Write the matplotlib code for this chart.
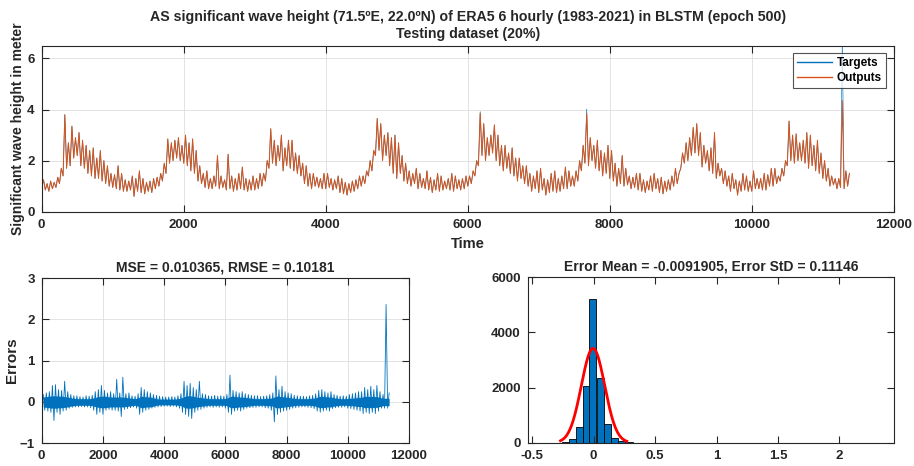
import numpy as np
import matplotlib.pyplot as plt

plt.rcParams['font.family'] = ['Liberation Sans', 'DejaVu Sans']
plt.rcParams['font.weight'] = 'bold'

hs_step = 50
hs_lo = [0.95, 0.85, 0.80, 0.90, 0.95, 1.10, 1.40, 1.70, 1.80, 2.10,
         2.20, 1.80, 1.70, 1.50, 1.40, 1.30, 1.30, 1.20, 1.10, 1.00,
         0.95, 0.90, 0.85, 0.80, 0.80, 0.85, 0.60, 0.80, 0.75, 0.70,
         0.80, 0.75, 0.90, 1.00, 1.20, 1.50, 1.90, 2.00, 2.10, 2.00,
         1.90, 1.80, 1.60, 1.50, 1.20, 1.10, 0.95, 0.90, 0.90, 1.00,
         0.90, 0.95, 0.85, 0.90, 0.80, 0.85, 0.90, 0.85, 0.80, 0.85,
         0.85, 0.90, 1.00, 1.20, 1.70, 1.90, 1.80, 2.00, 1.60, 1.80,
         1.70, 1.60, 1.50, 1.40, 1.10, 1.00, 0.90, 1.00, 0.95, 0.90,
         0.90, 0.95, 0.85, 0.90, 0.75, 0.70, 0.65, 0.75, 0.80, 0.90,
         1.00, 1.10, 1.40, 1.60, 2.20, 2.40, 2.00, 2.20, 1.80, 1.50,
         1.30, 1.50, 1.20, 1.10, 1.00, 1.10, 0.90, 0.95, 0.90, 0.85,
         0.75, 0.85, 0.80, 0.85, 0.90, 0.85, 0.80, 0.90, 0.85, 0.90,
         1.00, 1.10, 1.40, 1.80, 2.20, 2.00, 2.20, 2.30, 2.00, 1.80,
         1.60, 1.70, 1.50, 1.40, 1.20, 1.30, 1.10, 1.00, 0.80, 0.90,
         0.75, 0.85, 0.65, 0.75, 0.80, 0.75, 0.80, 0.90, 0.90, 1.00,
         1.00, 1.20, 1.60, 1.90, 1.80, 2.00, 1.70, 1.60, 1.40, 1.50,
         1.30, 1.20, 1.00, 1.10, 1.00, 1.05, 0.90, 0.95, 0.85, 0.80,
         0.75, 0.85, 0.80, 0.90, 0.75, 0.70, 0.80, 0.85, 1.00, 1.10,
         1.70, 1.90, 2.00, 2.20, 2.30, 2.20, 1.75, 1.90, 1.60, 1.50,
         1.30, 1.40, 1.10, 1.00, 0.80, 0.90, 0.65, 0.80, 0.85, 0.80,
         0.80, 0.90, 0.90, 0.85, 0.85, 1.00, 1.00, 1.10, 1.20, 1.40,
         1.80, 2.00, 1.90, 2.00, 2.00, 1.90, 1.70, 1.80, 1.60, 1.50,
         1.30, 1.20, 1.00, 1.05, 0.90, 0.95, 0.90, 1.00]
hs_hi = [1.25, 1.10, 1.20, 1.15, 1.35, 1.70, 3.80, 2.70, 3.35, 2.90,
         3.10, 2.80, 2.60, 2.40, 2.50, 2.10, 2.40, 2.00, 1.80, 1.50,
         1.45, 1.80, 1.50, 1.25, 1.20, 1.40, 1.30, 1.60, 1.30, 1.15,
         1.20, 1.30, 1.35, 1.50, 1.90, 2.85, 2.70, 2.80, 2.90, 2.60,
         3.00, 2.70, 2.85, 2.40, 1.80, 1.50, 1.60, 1.30, 1.40, 2.20,
         1.40, 1.25, 2.25, 1.40, 1.30, 1.50, 1.75, 1.30, 1.25, 1.40,
         1.30, 1.50, 1.50, 2.00, 3.25, 2.80, 2.60, 3.00, 2.50, 2.80,
         2.80, 2.30, 2.20, 1.90, 1.80, 1.50, 1.50, 1.35, 1.30, 1.50,
         1.50, 1.30, 1.25, 1.40, 1.30, 1.15, 1.10, 1.20, 1.25, 1.40,
         1.40, 1.60, 2.00, 2.40, 3.65, 3.45, 3.00, 3.10, 2.90, 3.00,
         2.70, 2.20, 1.90, 1.60, 1.50, 1.70, 1.50, 1.30, 1.60, 1.35,
         1.25, 1.50, 1.40, 1.20, 1.30, 1.50, 1.40, 1.25, 1.30, 1.40,
         1.40, 1.60, 2.00, 3.85, 3.45, 2.90, 3.00, 3.40, 3.00, 2.60,
         2.60, 2.30, 2.50, 2.10, 2.10, 1.80, 1.80, 1.50, 1.40, 1.60,
         1.70, 1.30, 1.25, 1.50, 1.60, 1.30, 1.40, 1.75, 1.60, 1.40,
         1.60, 2.00, 2.60, 3.85, 2.90, 2.60, 2.80, 2.40, 2.30, 2.60,
         2.40, 1.90, 1.70, 2.20, 1.70, 1.40, 1.35, 1.50, 1.50, 1.25,
         1.20, 1.40, 1.50, 1.30, 1.35, 1.20, 1.25, 1.40, 1.70, 1.50,
         2.30, 2.70, 2.90, 3.30, 3.45, 3.10, 2.60, 2.40, 2.50, 3.10,
         1.90, 1.70, 1.60, 1.40, 1.50, 1.25, 1.20, 1.50, 1.40, 1.20,
         1.60, 1.30, 1.30, 1.50, 1.45, 1.70, 1.70, 1.40, 1.70, 2.00,
         3.55, 3.00, 3.05, 2.70, 2.80, 3.10, 3.00, 2.60, 2.80, 2.30,
         2.00, 1.70, 1.40, 1.30, 1.30, 4.35, 1.60, 1.50]
# windows where the targets go above the outputs
target_peaks = {123: 3.92, 153: 4.02, 225: 6.7}

# errors: extremes per window of 100 steps, plus half width of the dense band
err_step = 100
err_lo = [-0.15, -0.20, -0.22, -0.25, -0.45, -0.25, -0.30, -0.22, -0.20, -0.15,
          -0.13, -0.12, -0.12, -0.11, -0.12, -0.12, -0.14, -0.20, -0.30, -0.25,
          -0.30, -0.20, -0.18, -0.20, -0.20, -0.22, -0.35, -0.18, -0.16, -0.14,
          -0.12, -0.15, -0.30, -0.25, -0.20, -0.18, -0.15, -0.13, -0.12, -0.11,
          -0.10, -0.10, -0.11, -0.10, -0.12, -0.15, -0.25, -0.30, -0.35, -0.40,
          -0.25, -0.20, -0.18, -0.15, -0.13, -0.12, -0.13, -0.12, -0.13, -0.12,
          -0.15, -0.25, -0.30, -0.22, -0.20, -0.22, -0.18, -0.15, -0.14, -0.13,
          -0.13, -0.12, -0.12, -0.14, -0.15, -0.20, -0.48, -0.30, -0.25, -0.22,
          -0.20, -0.18, -0.15, -0.14, -0.13, -0.12, -0.12, -0.13, -0.14, -0.16,
          -0.22, -0.25, -0.22, -0.20, -0.22, -0.16, -0.14, -0.13, -0.13, -0.12,
          -0.15, -0.16, -0.18, -0.20, -0.22, -0.28, -0.25, -0.28, -0.25, -0.28,
          -0.22, -0.15, -0.15, -0.15]
err_hi = [0.18, 0.22, 0.25, 0.40, 0.42, 0.30, 0.28, 0.50, 0.25, 0.18,
          0.15, 0.15, 0.13, 0.12, 0.15, 0.14, 0.16, 0.25, 0.30, 0.40,
          0.28, 0.22, 0.25, 0.20, 0.55, 0.22, 0.60, 0.20, 0.22, 0.15,
          0.14, 0.20, 0.35, 0.30, 0.25, 0.22, 0.18, 0.16, 0.14, 0.13,
          0.12, 0.12, 0.13, 0.12, 0.15, 0.20, 0.50, 0.40, 0.45, 0.35,
          0.30, 0.50, 0.20, 0.18, 0.15, 0.14, 0.16, 0.14, 0.15, 0.14,
          0.18, 0.65, 0.28, 0.25, 0.22, 0.25, 0.20, 0.18, 0.16, 0.15,
          0.15, 0.13, 0.14, 0.15, 0.18, 0.22, 0.63, 0.30, 0.38, 0.25,
          0.22, 0.20, 0.16, 0.15, 0.14, 0.14, 0.13, 0.15, 0.16, 0.20,
          0.28, 0.30, 0.25, 0.22, 0.25, 0.18, 0.16, 0.14, 0.15, 0.14,
          0.18, 0.20, 0.22, 0.25, 0.25, 0.35, 0.30, 0.38, 0.30, 0.40,
          0.25, 0.18, 2.36, 0.22]
err_core = [0.12, 0.13, 0.14, 0.15, 0.15, 0.14, 0.14, 0.13, 0.12, 0.10,
            0.09, 0.08, 0.08, 0.08, 0.08, 0.08, 0.09, 0.11, 0.13, 0.14,
            0.14, 0.13, 0.12, 0.12, 0.12, 0.12, 0.12, 0.11, 0.10, 0.09,
            0.08, 0.10, 0.14, 0.13, 0.12, 0.12, 0.10, 0.08, 0.07, 0.07,
            0.07, 0.07, 0.07, 0.07, 0.08, 0.09, 0.13, 0.15, 0.15, 0.14,
            0.12, 0.11, 0.10, 0.09, 0.08, 0.08, 0.08, 0.08, 0.08, 0.08,
            0.09, 0.13, 0.14, 0.13, 0.12, 0.12, 0.11, 0.10, 0.09, 0.08,
            0.08, 0.08, 0.08, 0.09, 0.09, 0.10, 0.14, 0.14, 0.13, 0.12,
            0.11, 0.10, 0.09, 0.08, 0.08, 0.08, 0.08, 0.08, 0.09, 0.10,
            0.13, 0.14, 0.13, 0.12, 0.12, 0.10, 0.09, 0.08, 0.08, 0.08,
            0.09, 0.09, 0.10, 0.11, 0.11, 0.14, 0.13, 0.14, 0.13, 0.13,
            0.11, 0.09, 0.09, 0.09]

# histogram of errors
bin_left = [-0.257, -0.200, -0.143, -0.086, -0.035, 0.024, 0.083, 0.142, 0.201, 0.260]
bin_width = 0.058
bin_counts = [36, 120, 580, 2050, 5200, 2350, 665, 160, 60, 25]
fit_mu, fit_sigma, fit_peak = -0.005, 0.095, 3420
fit_range = (-0.27, 0.27)

blue = '#0072BD'
orange = '#D95319'
dark = '#262626'


def zigzag(lo, hi, step):
    t = np.arange(len(lo)) * step
    x = np.column_stack([t + 1, t + 1 + step // 2]).ravel()
    y = np.column_stack([lo, hi]).ravel()
    return x, y


def style(ax, grid=True):
    ax.tick_params(direction='in', top=True, right=True, length=5, width=0.8,
                   labelsize=9.5, colors=dark, pad=5)
    for lab in ax.get_xticklabels() + ax.get_yticklabels():
        lab.set_fontweight('bold')
    for s in ax.spines.values():
        s.set_color(dark)
        s.set_linewidth(0.8)
    if grid:
        ax.grid(True, color='#dedede', linewidth=0.6)
        ax.set_axisbelow(True)


fig = plt.figure(figsize=(9.14, 4.66), dpi=100)

# top panel
ax1 = fig.add_axes([0.0456, 0.5457, 0.9322, 0.3562])
tgt_hi = list(hs_hi)
for k, v in target_peaks.items():
    tgt_hi[k] = v
xt, yt = zigzag(hs_lo, tgt_hi, hs_step)
xo, yo = zigzag(hs_lo, hs_hi, hs_step)
ax1.plot(xt, yt, color=blue, lw=0.45, label='Targets')
ax1.plot(xo, yo, color=orange, lw=0.7, label='Outputs')
ax1.set_xlim(0, 12000)
ax1.set_ylim(0, 6.5)
ax1.set_xticks(np.arange(0, 12001, 2000))
ax1.set_yticks([0, 2, 4, 6])
style(ax1)
ax1.set_xlabel('Time', fontsize=10.5, fontweight='bold', color=dark)
ax1.xaxis.set_label_coords(0.5, -0.15)
ax1.set_ylabel('Significant wave height in meter', fontsize=10,
               fontweight='bold', color=dark)
ax1.yaxis.set_label_coords(-0.02, 0.5)
leg = ax1.legend(loc='upper right', bbox_to_anchor=(0.991, 0.957), fontsize=8.5,
                 fancybox=False, edgecolor=dark, handlelength=3,
                 borderaxespad=0, borderpad=0.35, labelspacing=0.25,
                 handletextpad=0.4)
leg.get_frame().set_linewidth(0.8)
for line in leg.get_lines():
    line.set_linewidth(1.0)
for txt in leg.get_texts():
    txt.set_fontweight('bold')

fig.text(0.512, 0.963, 'AS significant wave height (71.5\u00baE, 22.0\u00baN) of ERA5 6 hourly '
         '(1983-2021) in BLSTM (epoch 500)', ha='center', va='center',
         fontsize=10.2, fontweight='bold', color=dark)
fig.text(0.512, 0.928, 'Testing dataset (20%)', ha='center', va='center',
         fontsize=10.2, fontweight='bold', color=dark)

# bottom left: errors
ax2 = fig.add_axes([0.0456, 0.0487, 0.4019, 0.3547])
te = np.arange(len(err_core)) * err_step + err_step / 2
ax2.fill_between(te, -np.array(err_core), err_core, color=blue, lw=0)
xe, ye = zigzag(err_lo, err_hi, err_step)
ax2.plot(xe, ye, color=blue, lw=0.6)
ax2.set_xlim(0, 12000)
ax2.set_ylim(-1, 3)
ax2.set_xticks(np.arange(0, 12001, 2000))
ax2.set_yticks([-1, 0, 1, 2, 3])
style(ax2)
ax2.set_ylabel('Errors', fontsize=11, fontweight='bold', color=dark)
ax2.yaxis.set_label_coords(-0.062, 0.5)
ax2.set_title('MSE = 0.010365, RMSE = 0.10181', fontsize=10,
              fontweight='bold', color=dark, pad=5)

# bottom right: error histogram with normal fit
ax3 = fig.add_axes([0.5773, 0.0500, 0.4008, 0.3550])
ax3.bar(bin_left, bin_counts, width=bin_width, align='edge', color=blue,
        edgecolor='black', linewidth=0.6)
xf = np.linspace(fit_range[0], fit_range[1], 200)
yf = fit_peak * np.exp(-0.5 * ((xf - fit_mu) / fit_sigma) ** 2)
ax3.plot(xf, yf, color='#ff0000', lw=2)
ax3.set_xlim(-0.537, 2.444)
ax3.set_ylim(0, 6000)
ax3.set_xticks([-0.5, 0, 0.5, 1, 1.5, 2])
ax3.set_xticklabels(['-0.5', '0', '0.5', '1', '1.5', '2'])
ax3.set_yticks([0, 2000, 4000, 6000])
style(ax3, grid=False)
ax3.set_title('Error Mean = -0.0091905, Error StD = 0.11146', fontsize=10,
              fontweight='bold', color=dark, pad=5)

fig.savefig('out.png', dpi=100)
